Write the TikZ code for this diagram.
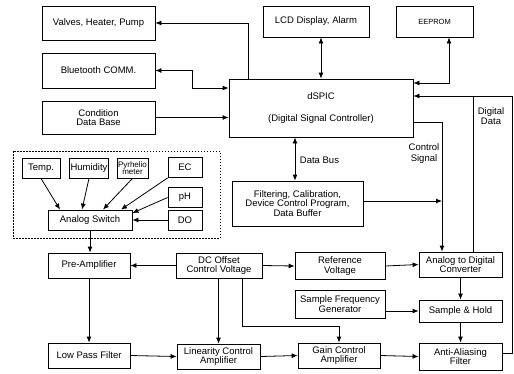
\documentclass[tikz,border=0pt]{standalone}
\usepackage{fontspec}
\setmainfont{Liberation Sans}
\usetikzlibrary{arrows.meta,positioning,calc}
\tikzset{
  blk/.style={draw, line width=0.8pt, align=center, inner sep=1pt,
    font=\fontsize{9.5}{9.5}\selectfont},
  sensbox/.style={blk, minimum height=20pt},
  sigln/.style={-{Latex[length=6pt,width=5pt]}, line width=0.8pt},
  busln/.style={{Latex[length=6pt,width=5pt]}-{Latex[length=6pt,width=5pt]}, line width=0.8pt},
  plainln/.style={line width=0.8pt},
  lbl/.style={align=center, font=\fontsize{9.5}{10.5}\selectfont},
}

\begin{document}
\begin{tikzpicture}[x=1pt, y=-1pt]
  \useasboundingbox (0,0) rectangle (514,373);
  % controller side
  \node[blk, minimum width=113pt, minimum height=34pt] (valves) at (98.5,23) {Valves, Heater, Pump};
  \node[blk, minimum width=113pt, minimum height=35pt] (bt) at (98.5,70.5) {Bluetooth COMM.};
  \node[blk, minimum width=113pt, minimum height=33pt] (cdb) at (98.5,117.5) {Condition\\Data Base};
  \node[blk, minimum width=106pt, minimum height=31pt] (lcd) at (316,21.5) {LCD Display, Alarm};
  \node[blk, minimum width=77pt, minimum height=31pt, font=\fontsize{7.5}{8}\selectfont] (eeprom) at (434.5,21.5) {EEPROM};
  \node[blk, minimum width=184pt, minimum height=58pt] (dspic) at (321,108)
    {dSPIC\\[12pt](Digital Signal Controller)};
  \node[blk, minimum width=131pt, minimum height=45pt, font=\fontsize{9.5}{8.8}\selectfont] (filt) at (297.5,203.5)
    {Filtering, Calibration,\\Device Control Program,\\Data Buffer};
  % sensor group
  \draw[line width=0.7pt, dash pattern=on 1.5pt off 1.5pt] (13,151) rectangle (220,238);
  \node[sensbox, minimum width=38pt] (temp) at (41,168) {Temp.};
  \node[sensbox, minimum width=38pt] (hum) at (89,168) {Humidity};
  \node[sensbox, minimum width=29pt, font=\fontsize{8}{7.5}\selectfont] (pyr) at (132.5,168) {Pyrhelio\\meter};
  \node[sensbox, minimum width=34pt] (ec) at (185,167.5) {EC};
  \node[sensbox, minimum width=34pt] (ph) at (185,197.5) {pH};
  \node[sensbox, minimum width=34pt] (do) at (185,220) {DO};
  \node[sensbox, minimum width=84pt] (sw) at (90,220) {Analog Switch};
  % signal chain
  \node[blk, minimum width=82pt, minimum height=25pt] (pre) at (89,265.5) {Pre-Amplifier};
  \node[blk, minimum width=86pt, minimum height=25pt] (dco) at (219,265.5) {DC Offset\\Control Voltage};
  \node[blk, minimum width=90pt, minimum height=27pt] (ref) at (340,266) {Reference\\Voltage};
  \node[blk, minimum width=83pt, minimum height=25pt] (adc) at (460.5,264.5) {Analog to Digital\\Converter};
  \node[blk, minimum width=90pt, minimum height=28pt] (sfg) at (340,304) {Sample Frequency\\Generator};
  \node[blk, minimum width=83pt, minimum height=22pt] (sh) at (460.5,311) {Sample \& Hold};
  \node[blk, minimum width=82pt, minimum height=25pt] (lpf) at (89,355.5) {Low Pass Filter};
  \node[blk, minimum width=83pt, minimum height=25pt] (lin) at (218.5,356.5) {Linearity Control\\Amplifier};
  \node[blk, minimum width=82pt, minimum height=25pt] (gain) at (339,355.5) {Gain Control\\Amplifier};
  \node[blk, minimum width=83pt, minimum height=27pt] (aaf) at (460.5,356.5) {Anti-Aliasing\\Filter};
  \coordinate (csig) at (442,201);
  \coordinate (ddat) at (473,96);
  % labels
  \node[lbl] (lbus) at (319.5,160) {Data Bus};
  \node[lbl] (lctl) at (424,153.5) {Control\\Signal};
  \node[lbl] (ldig) at (491,116) {Digital\\Data};
  % controller links
  \draw[sigln] (248,0 |- dspic.north) |- (valves.east);
  \draw[busln] (bt.east) -| (192,88) -- (dspic.west |- 0,88);
  \draw[sigln] (cdb.east) -- (dspic.west |- cdb.east);
  \draw[busln] (dspic.north) -- (dspic.north |- lcd.south);
  \draw[busln] (eeprom.south -| 449,0) |- (dspic.east |- 0,83);
  \draw[busln] (dspic.south -| 295,0) -- (filt.north -| 295,0);
  \draw[sigln] (dspic.east |- 0,122) -| (adc.north -| 442,0);
  \draw[sigln] (filt.east |- csig) -- (csig);
  \draw[sigln] (aaf.east |- 0,353) -| (512,96) -- (dspic.east |- ddat);
  \draw[plainln] (adc.north -| ddat) -- (ddat);
  % sensors to switch
  \foreach \s/\x in {temp/60, hum/82, pyr/103}
    \draw[sigln] (\s.south) -- (sw.north -| \x,0);
  \draw[sigln] (ec.south west) -- (sw.north -| 121,0);
  \draw[sigln] (ph.west) -- (sw.east |- 0,213);
  \draw[sigln] (do.west) -- (sw.east |- do.west);
  % analog chain
  \draw[sigln] (sw.south) -- (sw.south |- pre.north);
  \draw[sigln] (pre.south) -- (lpf.north);
  \draw[sigln] (dco.west) -- (pre.east);
  \foreach \a/\b in {dco/ref, ref/adc, lpf/lin, lin/gain, gain/aaf}
    \draw[sigln] (\a.east) -- (\b.west);
  \draw[sigln] (dco.south -| lin.north) -- (lin.north);
  \draw[sigln] (dco.south -| 242,0) |- (gain.north |- 0,326) -- (gain.north);
  \draw[sigln] (adc.south) -- (sh.north);
  \draw[sigln] (sfg.east |- sh.west) -- (sh.west);
  \draw[sigln] (sh.south) -- (aaf.north);
\end{tikzpicture}
\end{document}
